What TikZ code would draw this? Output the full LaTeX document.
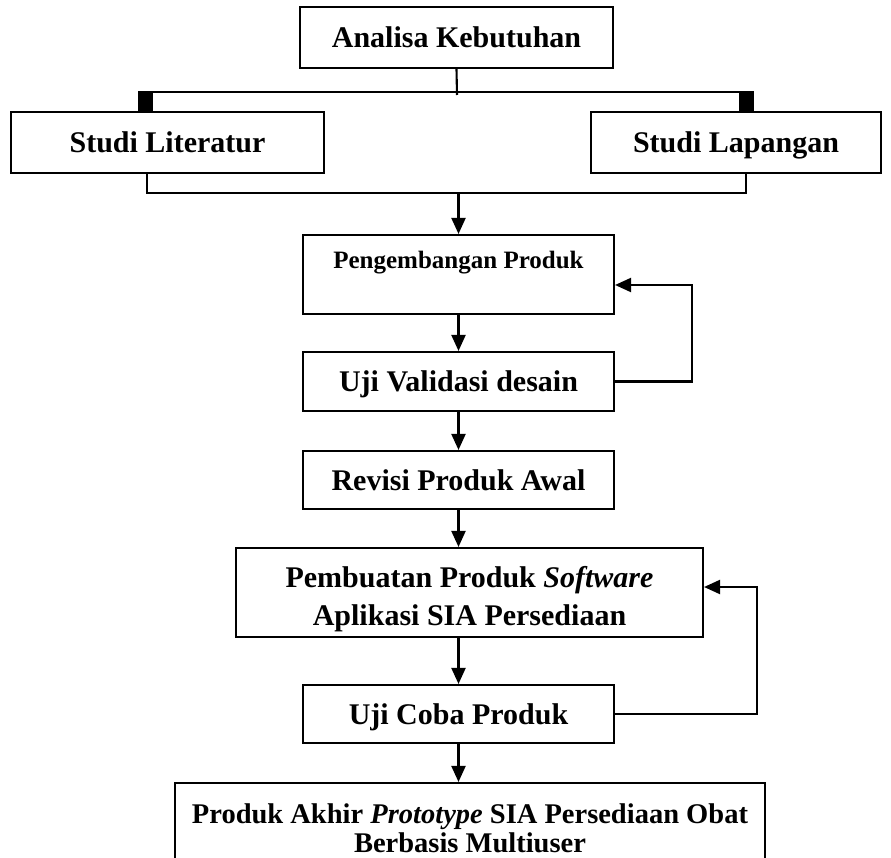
\documentclass[tikz,border=0pt]{standalone}
\usepackage{fontspec}
\setmainfont{Liberation Serif}
\usetikzlibrary{arrows.meta,calc}
\tikzset{
  box/.style={draw, line width=2.1pt, inner sep=0pt, align=center,
    font=\fontsize{30}{38}\selectfont\bfseries},
  oneline/.style={box, text height=20pt, text depth=0pt},
  link/.style={line width=2.1pt},
  arr/.style={link, -{Triangle[length=16pt,width=14pt]}},
  sqtip/.style={link, -{Square[length=19.5pt,width=15pt]}},
}
\begin{document}
\begin{tikzpicture}[x=1pt,y=-1pt]
  % page frame
  \useasboundingbox (0,0) rectangle (891,858);
  \clip (0,0) rectangle (891,858);
  \fill[white] (0,0) rectangle (891,858);

  % boxes
  \node[oneline, minimum width=313pt, minimum height=61pt] (an) at (456.5,37.5) {Analisa Kebutuhan};
  \node[oneline, minimum width=313pt, minimum height=61pt] (sl) at (167.5,142.5) {Studi Literatur};
  \node[oneline, minimum width=290pt, minimum height=61pt] (sp) at (736,142.5) {Studi Lapangan};
  \node[box, minimum width=311pt, minimum height=79pt,
        font=\fontsize{25}{30}\selectfont\bfseries,
        text height=17pt, text depth=29pt] (pe) at (458.5,274.5) {Pengembangan Produk};
  \node[oneline, minimum width=311pt, minimum height=59pt] (uv) at (458.5,381.5) {Uji Validasi desain};
  \node[oneline, minimum width=311pt, minimum height=58pt] (rv) at (458.5,480) {Revisi Produk Awal};
  % two-line boxes: the box baseline is that of the last line
  \node[box, minimum width=467pt, minimum height=89pt,
        text height=65pt, text depth=0pt] (pb) at (469.5,592.5)
        {Pembuatan Produk \textit{Software}\\Aplikasi SIA Persediaan};
  \node[oneline, minimum width=311pt, minimum height=58pt] (uc) at (458.5,714) {Uji Coba Produk};
  \node[box, minimum width=590pt, minimum height=89pt,
        font=\fontsize{28.5}{29}\selectfont\bfseries,
        text height=49pt, text depth=0pt] (pa) at (470,827.5)
        {Produk Akhir \textit{Prototype} SIA Persediaan Obat\\Berbasis Multiuser};

  % split from the analysis step to both studies
  \coordinate (j) at (457,92);
  \coordinate (bl) at (145,92);
  \coordinate (br) at (746,92);
  \draw[link] (an.south) -- ($(j)+(0,3)$);
  \draw[link] (bl) -- (br);
  \draw[sqtip] (j) -| (bl |- sl.north);
  \draw[sqtip] (j) -| (br |- sp.north);

  % join of both studies
  \coordinate (bl2) at (147,193);
  \coordinate (br2) at (746,193);
  \coordinate (m) at (458.5,193);
  \draw[link] (sl.south -| bl2) -- (bl2) -- (br2) -- (sp.south -| br2);
  \draw[arr] (m) -- (pe.north);

  % main flow
  \draw[arr] (pe.south) -- (uv.north);
  \draw[arr] (uv.south) -- (rv.north);
  \draw[arr] (rv.south) -- (rv.south |- pb.north);
  \draw[arr] (uc.north |- pb.south) -- (uc.north);
  \draw[arr] (uc.south) -- (uc.south |- pa.north);

  % feedback loops
  \coordinate (l1) at (692,285);
  \draw[arr] (uv.east) -| (l1) -- (l1 -| pe.east);
  \coordinate (l2) at (757,587);
  \draw[arr] (uc.east) -| (l2) -- (l2 -| pb.east);
\end{tikzpicture}
\end{document}
